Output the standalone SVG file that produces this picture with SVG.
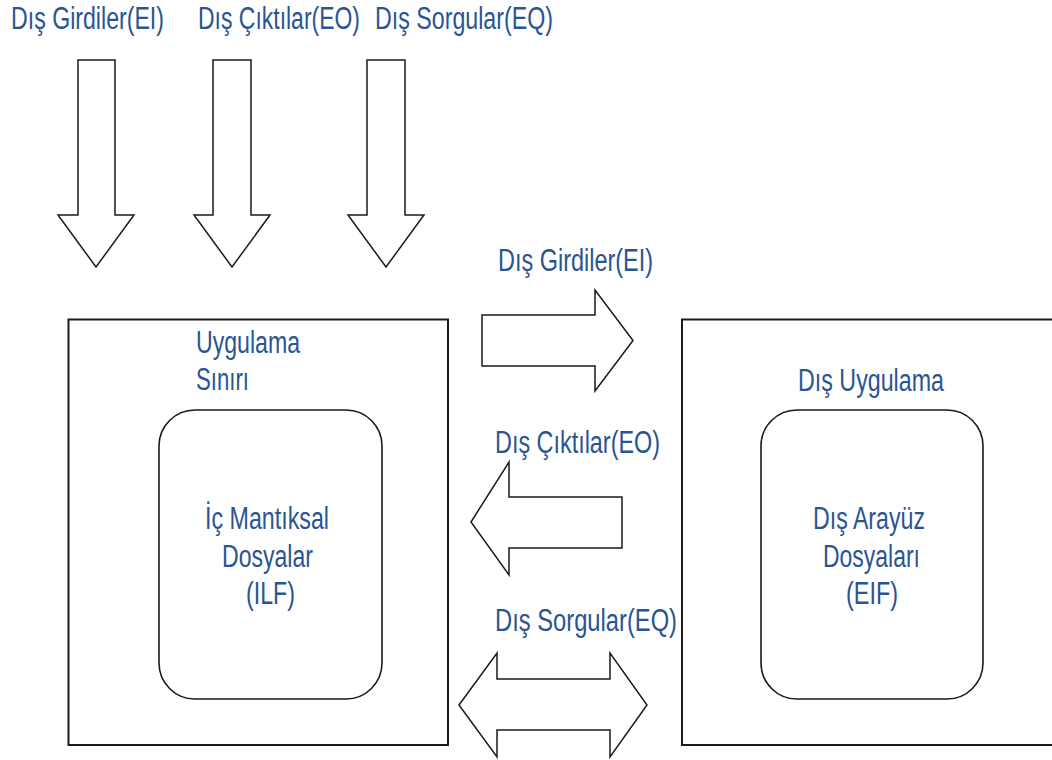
<svg xmlns="http://www.w3.org/2000/svg" width="1052" height="760" viewBox="0 0 1052 760">
  <style>
    .lbl { font-family: "Liberation Sans", Arial, sans-serif; font-size: 31px; fill: #2B5592; }
    .box { fill: #ffffff; stroke: #1a1a1a; stroke-width: 2; }
    .inner { fill: #ffffff; stroke: #1a1a1a; stroke-width: 1.6; }
    .arr { fill: #ffffff; stroke: #1a1a1a; stroke-width: 1.5; stroke-linejoin: miter; }
  </style>
  <rect x="0" y="0" width="1052" height="760" fill="#ffffff"/>

  <g id="app-boundary">
    <rect class="box" x="68.5" y="319.5" width="379.5" height="425.5"/>
    <text class="lbl" transform="translate(196,353) scale(0.75,1)" textLength="138.7" lengthAdjust="spacingAndGlyphs">Uygulama</text>
    <text class="lbl" transform="translate(196,390) scale(0.75,1)" textLength="70.7" lengthAdjust="spacingAndGlyphs">Sınırı</text>
  </g>
  <g id="ilf">
    <rect class="inner" x="159" y="410" width="223" height="289" rx="36" ry="36"/>
    <text class="lbl" transform="translate(205,529) scale(0.75,1)" textLength="165.3" lengthAdjust="spacingAndGlyphs">İç Mantıksal</text>
    <text class="lbl" transform="translate(222,567) scale(0.75,1)" textLength="121.3" lengthAdjust="spacingAndGlyphs">Dosyalar</text>
    <text class="lbl" transform="translate(246,604) scale(0.75,1)" textLength="65.3" lengthAdjust="spacingAndGlyphs">(ILF)</text>
  </g>

  <g id="external-app">
    <rect class="box" x="682" y="319.5" width="400" height="425.5"/>
    <text class="lbl" transform="translate(798,391) scale(0.75,1)" textLength="194.7" lengthAdjust="spacingAndGlyphs">Dış Uygulama</text>
  </g>
  <g id="eif">
    <rect class="inner" x="761" y="410" width="222" height="289" rx="36" ry="36"/>
    <text class="lbl" transform="translate(813,529) scale(0.75,1)" textLength="149.3" lengthAdjust="spacingAndGlyphs">Dış Arayüz</text>
    <text class="lbl" transform="translate(823,567) scale(0.75,1)" textLength="129.3" lengthAdjust="spacingAndGlyphs">Dosyaları</text>
    <text class="lbl" transform="translate(846,604) scale(0.75,1)" textLength="69.3" lengthAdjust="spacingAndGlyphs">(EIF)</text>
  </g>

  <g id="connectors">
    <g id="in-ei">
      <polygon class="arr" points="78,60 115,60 115,215 134,215 96,267 58,215 78,215"/>
      <text class="lbl" transform="translate(11,29) scale(0.75,1)" textLength="204" lengthAdjust="spacingAndGlyphs">Dış Girdiler(EI)</text>
    </g>
    <g id="in-eo">
      <polygon class="arr" points="213,60 251,60 251,215 270,215 232,267 194,215 213,215"/>
      <text class="lbl" transform="translate(198,29) scale(0.75,1)" textLength="216" lengthAdjust="spacingAndGlyphs">Dış Çıktılar(EO)</text>
    </g>
    <g id="in-eq">
      <polygon class="arr" points="367,60 405,60 405,215 424,215 386,267 348,215 367,215"/>
      <text class="lbl" transform="translate(375,29) scale(0.75,1)" textLength="237.3" lengthAdjust="spacingAndGlyphs">Dış Sorgular(EQ)</text>
    </g>
    <g id="ext-ei">
      <text class="lbl" transform="translate(498,271) scale(0.75,1)" textLength="206.7" lengthAdjust="spacingAndGlyphs">Dış Girdiler(EI)</text>
      <polygon class="arr" points="482,315 595,315 595,290 633,340.5 595,391 595,366 482,366"/>
    </g>
    <g id="ext-eo">
      <text class="lbl" transform="translate(495,453) scale(0.75,1)" textLength="220" lengthAdjust="spacingAndGlyphs">Dış Çıktılar(EO)</text>
      <polygon class="arr" points="622,497 509,497 509,462 471,522 509,575 509,548 622,548"/>
    </g>
    <g id="ext-eq">
      <text class="lbl" transform="translate(495,631) scale(0.75,1)" textLength="242.7" lengthAdjust="spacingAndGlyphs">Dış Sorgular(EQ)</text>
      <polygon class="arr" points="459,705 497,653 497,679 610,679 610,653 647,705 610,757 610,730 497,730 497,757"/>
    </g>
  </g>
</svg>
